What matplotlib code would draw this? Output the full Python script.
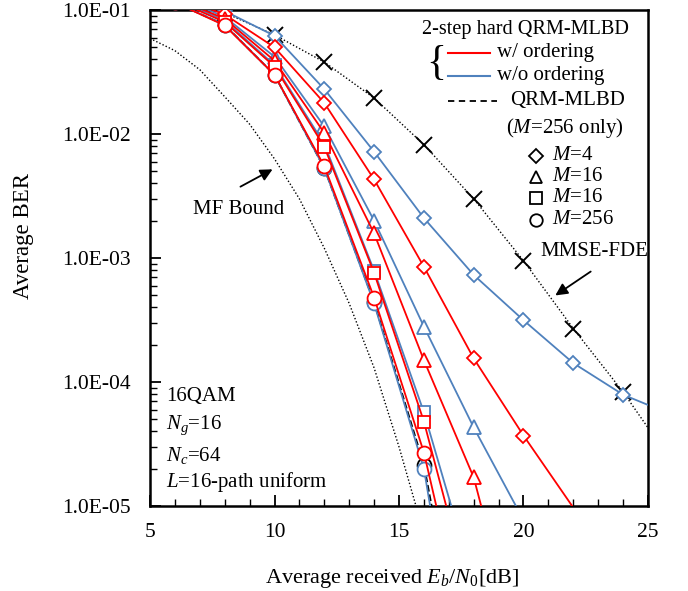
import numpy as np
import matplotlib
matplotlib.use("Agg")
import matplotlib.pyplot as plt
from matplotlib.ticker import FixedLocator, NullFormatter, FuncFormatter

plt.rcParams['font.family'] = ['Liberation Serif', 'DejaVu Serif']
plt.rcParams['mathtext.fontset'] = 'custom'
plt.rcParams['mathtext.rm'] = 'Liberation Serif'
plt.rcParams['mathtext.it'] = 'Liberation Serif:italic'

# ---------------- data ----------------
snr = [6, 8, 10, 12, 14, 16, 18, 20, 22, 24, 26]

# 2-step hard QRM-MLBD, w/ ordering (red)
red_m4 = [0.13, 0.092, 0.050, 0.0178, 4.3e-3, 8.5e-4, 1.55e-4, 3.7e-5, 9.7e-6]
red_m16t = [0.125, 0.085, 0.039, 0.0102, 1.58e-3, 1.5e-4, 1.7e-5, 5e-7]
red_m16s = [0.12, 0.080, 0.035, 7.9e-3, 7.6e-4, 4.8e-5, 1.45e-6]
red_m256 = [0.115, 0.075, 0.030, 5.5e-3, 4.8e-4, 2.7e-5, 5e-7]

# 2-step hard QRM-MLBD, w/o ordering (blue)
blue_m4 = [0.14, 0.098, 0.062, 0.023, 7.2e-3, 2.1e-3, 7.3e-4, 3.15e-4, 1.42e-4, 7.9e-5, 5.4e-5]
blue_m16t = [0.13, 0.088, 0.042, 0.0115, 2.0e-3, 2.8e-4, 4.3e-5, 7.7e-6]
blue_m16s = [0.125, 0.082, 0.036, 8.3e-3, 7.9e-4, 5.7e-5, 2.4e-6]
blue_m256 = [0.115, 0.076, 0.030, 5.3e-3, 4.3e-4, 2.0e-5, 8e-8]

# QRM-MLBD (M=256 only)
qrm_m256 = [0.115, 0.076, 0.030, 5.3e-3, 4.4e-4, 2.15e-5, 1.6e-7]

# MMSE-FDE
mmse_snr = [6, 8, 10, 12, 14, 16, 18, 20, 22, 24, 26]
mmse_ber = [0.14, 0.095, 0.063, 0.038, 0.0195, 8.2e-3, 3.0e-3, 9.5e-4, 2.7e-4, 8.3e-5, 2.2e-5]

# MF bound
mf_snr = [5, 6, 7, 8, 9, 10, 11, 12, 13, 14, 15, 16]
mf_ber = [0.059, 0.047, 0.033, 0.020, 0.012, 6.3e-3, 3.0e-3, 1.2e-3, 4.3e-4, 1.3e-4, 3.0e-5, 6e-6]

yticks = [1e-1, 1e-2, 1e-3, 1e-4, 1e-5]
xticks = [5, 10, 15, 20, 25]

# ---------------- figure ----------------
W, H = 688, 591
fig = plt.figure(figsize=(W / 100, H / 100), dpi=100)
L, R, T, B = 150, 648, 10, 506
ax = fig.add_axes([L / W, (H - B) / H, (R - L) / W, (B - T) / H])

RED = '#FF0000'
BLUE = '#4F81BD'
lw = 1.3
YMIN, YMAX = 1e-5, 1e-1

def px(xp, yp):
    return ((xp - L) / (R - L), (B - yp) / (B - T))

def series(y, color, marker, ms, ls='-', zo=3, lwid=lw):
    xs = snr[:len(y)]
    vis = [i for i, v in enumerate(y) if YMIN * 0.999 <= v <= YMAX * 1.3]
    ax.plot(xs, y, color=color, ls=ls, lw=lwid, marker=marker, ms=ms,
            mfc='white', mec=color, mew=1.3, zorder=zo, markevery=vis)

# MF bound and MMSE
ax.plot(mf_snr, mf_ber, color='black', ls=(0, (1, 1.5)), lw=1.0, zorder=2)
ax.plot(mmse_snr, mmse_ber, color='black', ls=(0, (1, 1.5)), lw=1.0, marker='x',
        ms=11, mew=1.4, mec='black', zorder=2)

# QRM-MLBD reference (black dashed, circles)
series(qrm_m256, 'black', 'o', 10, ls='--', zo=3)

# blue
series(blue_m4, BLUE, 'D', 7, zo=4)
series(blue_m16t, BLUE, '^', 10, zo=4)
series(blue_m16s, BLUE, 's', 9, zo=4)
series(blue_m256, BLUE, 'o', 10, zo=3.5)

# red
series(red_m4, RED, 'D', 7, zo=5)
series(red_m16t, RED, '^', 10, zo=5)
series(red_m16s, RED, 's', 9, zo=5)
series(red_m256, RED, 'o', 10, zo=5)

ax.set_yscale('log')
ax.set_xlim(5, 25)
ax.set_ylim(YMIN, YMAX)

ax.xaxis.set_major_locator(FixedLocator(xticks))
ax.xaxis.set_minor_locator(FixedLocator(list(range(5, 26))))
ax.set_xticklabels([str(v) for v in xticks])
ax.yaxis.set_major_locator(FixedLocator(yticks))
ax.yaxis.set_minor_locator(FixedLocator([m * 10.0 ** e for e in range(-5, -1) for m in range(2, 10)]))
ax.yaxis.set_minor_formatter(NullFormatter())
ax.yaxis.set_major_formatter(FuncFormatter(lambda v, p: "%.1fE-%02d" % (v / 10 ** np.floor(np.log10(v) + 1e-9), -int(np.floor(np.log10(v) + 1e-9)))))

ax.tick_params(axis='both', which='both', direction='in', top=False, right=False, labelsize=15.5)
ax.tick_params(axis='x', which='major', length=8, width=1.3, pad=12)
ax.tick_params(axis='x', which='minor', length=5, width=1.0)
ax.tick_params(axis='y', which='major', length=8, width=1.3, pad=14)
ax.tick_params(axis='y', which='minor', length=5, width=1.0)
for s in ax.spines.values():
    s.set_linewidth(1.8)

ax.set_xlabel(r"Average received $E_b$/$N_0$[dB]", fontsize=16)
ax.xaxis.set_label_coords(*px(392, 579))
ax.xaxis.label.set_va('center')
ax.set_ylabel("Average BER", fontsize=16.5)
ax.yaxis.set_label_coords(*px(23, 236))
ax.yaxis.label.set_va('center')

# ---------------- custom legend ----------------
tkw = dict(transform=ax.transAxes, fontsize=15, va='center')
ax.text(*px(525, 30), "2-step hard QRM-MLBD", ha='center', transform=ax.transAxes,
        fontsize=14.6, va='center')
ax.text(*px(436, 64), "{", ha='center', fontsize=30, va='center', transform=ax.transAxes)
for yv, c, lab in [(53, RED, "w/ ordering"), (76, BLUE, "w/o ordering")]:
    x0, y0 = px(448, yv)
    x1, _ = px(490, yv)
    ax.plot([x0, x1], [y0, y0], color=c, lw=1.5, transform=ax.transAxes, clip_on=False)
    ax.text(*px(497, yv), lab, ha='left', **tkw)
x0, y0 = px(448, 101)
x1, _ = px(497, 101)
ax.plot([x0, x1], [y0, y0], color='black', lw=1.3, ls=(0, (3.5, 2.5)), transform=ax.transAxes)
ax.text(*px(510, 101), "QRM-MLBD", ha='left', **tkw)
ax.text(*px(565, 128), r"($M$=256 only)", ha='center', **tkw)
for yv, mk, ms, lab in [(156, 'D', 7, r"$M$=4"), (177, '^', 9, r"$M$=16"),
                        (198, 's', 9, r"$M$=16"), (220, 'o', 9, r"$M$=256")]:
    xm, ym = px(536, yv)
    ax.plot([xm], [ym], marker=mk, ms=ms, mfc='white', mec='black', mew=1.3,
            transform=ax.transAxes, ls='none')
    ax.text(*px(552, yv), lab, ha='left', **tkw)

# annotations
ax.text(*px(540, 252), "MMSE-FDE", ha='left', **tkw)
ax.annotate("", xy=px(553, 297), xytext=px(593, 270), xycoords='axes fraction',
            textcoords='axes fraction',
            arrowprops=dict(arrowstyle='-|>', color='black', lw=1.3, mutation_scale=18))
ax.text(*px(239, 210), "MF Bound", ha='center', **tkw)
ax.annotate("", xy=px(275, 168), xytext=px(238, 188), xycoords='axes fraction',
            textcoords='axes fraction',
            arrowprops=dict(arrowstyle='-|>', color='black', lw=1.3, mutation_scale=18))

for yv, s in [(397, "16QAM"), (425, r"$N_g$=16"), (455, r"$N_c$=64"), (482, r"$L$=16-path uniform")]:
    ax.text(*px(166, yv), s, ha='left', **tkw)

fig.savefig("out.png", dpi=100)
